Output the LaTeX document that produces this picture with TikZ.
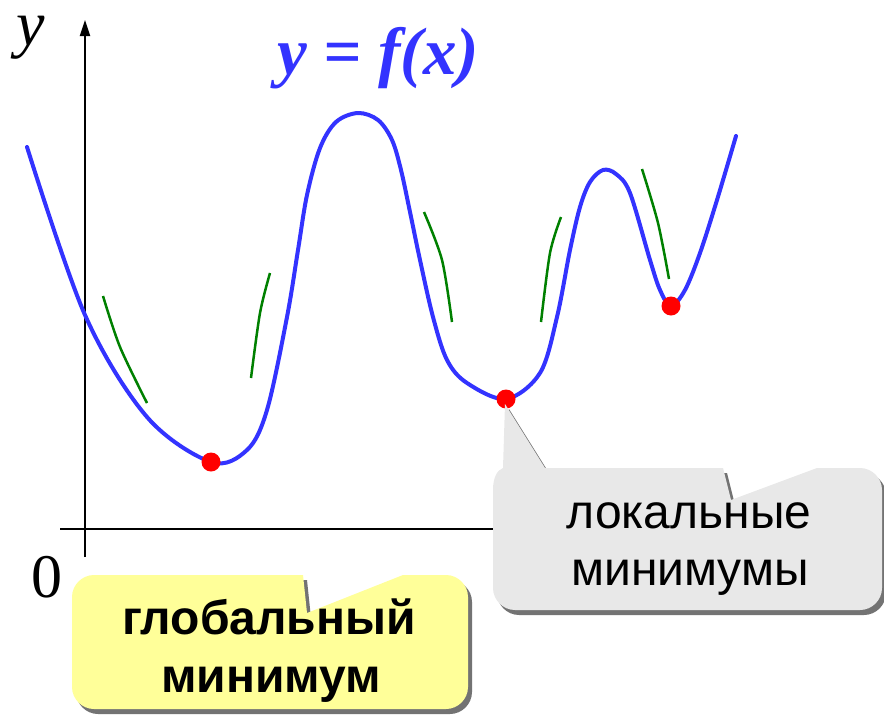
\documentclass[tikz,border=0pt]{standalone}
\usepackage{fontspec}
\setmainfont{Liberation Serif}
\newfontfamily\arialf{Liberation Sans}
\usetikzlibrary{shadows,arrows.meta}
\definecolor{curveblue}{HTML}{3333FF}
\definecolor{tangreen}{HTML}{008000}
\definecolor{calgrey}{HTML}{E8E8E8}
\definecolor{calyellow}{HTML}{FFFF99}
\tikzset{
  curve/.style={curveblue, line width=4pt, line join=round, line cap=round},
  tangent/.style={tangreen, line width=2.5pt},
  mindot/.style={circle, fill=red, inner sep=0pt, minimum size=19pt},
  axis/.style={black, line width=2pt},
  callout/.style={drop shadow={shadow xshift=4pt, shadow yshift=-5pt, opacity=0.55, fill=black}},
  calltext/.style={font=\arialf\fontsize{48}{57}\selectfont, anchor=base, inner sep=0pt},
}
\begin{document}
\begin{tikzpicture}[x=1pt, y=-1pt]
\useasboundingbox (0,0) rectangle (884,718);
% axes
\coordinate (xs) at (60,529);
\coordinate (xe) at (560,529);
\coordinate (ys) at (85,557);
\coordinate (ye) at (85,20);
\draw[axis] (xs) -- (xe);
\draw[axis, -{Triangle[length=16pt, width=10pt]}] (ys) -- (ye);
\node[font=\itshape\fontsize{64}{64}\selectfont, anchor=base, inner sep=0pt] (ylab) at (31,45) {y};
\node[font=\fontsize{62}{62}\selectfont, anchor=base, inner sep=0pt] (zero) at (47,597) {0};
\node[font=\bfseries\itshape\fontsize{67}{67}\selectfont, text=curveblue, anchor=base, inner sep=0pt] (title) at (378,74) {y = f(x)};
% curve
\draw[curve] plot[smooth, tension=0.55] coordinates {
 (27,147) (85,315) (147,417) (211,462) (247,450)
 (267,410) (287,317) (298,250) (307,195) (320,148) (336,122) (358,113) (378,120)
 (392,140) (401,170) (410,212) (420,260) (433,317) (447,360) (467,383) (506,399)
 (540,373) (557,317) (570,250) (580,207) (590,182) (603,170) (616,174) (630,193)
 (650,260) (660,290) (671,306) (685,290) (700,253) (717,200) (736,136)};
% tangents
\draw[tangent] plot[smooth] coordinates {(103,296) (120,347) (147,403)};
\draw[tangent] plot[smooth] coordinates {(270,273) (260,313) (251,378)};
\draw[tangent] plot[smooth] coordinates {(424,212) (442,260) (452,322)};
\draw[tangent] plot[smooth] coordinates {(561,217) (550,253) (541,322)};
\draw[tangent] plot[smooth] coordinates {(642,169) (658,223) (669,279)};
% minima
\node[mindot] (m1) at (211,462) {};
\node[mindot] (m2) at (506,399) {};
\node[mindot] (m3) at (671,306) {};
% grey callout
\fill[calgrey, callout] (505,404) -- (545,468) -- (723,468) -- (731,500) -- (817,468) -- (860,468)
  .. controls (872,468) and (882,478) .. (882,490) -- (882,588)
  .. controls (882,600) and (872,610) .. (860,610) -- (515,610)
  .. controls (503,610) and (493,600) .. (493,588) -- (493,490)
  .. controls (493,478) and (497,470) .. (503,468) -- cycle;
\node[calltext] (loc1) at (689,528) {локальные};
\node[calltext] (loc2) at (690,585) {минимумы};
% yellow callout
\fill[calyellow, callout] (94,575) -- (303,575) -- (307,613) -- (403,575) -- (446,575)
  .. controls (458,575) and (468,585) .. (468,597) -- (468,687)
  .. controls (468,699) and (458,709) .. (446,709) -- (94,709)
  .. controls (82,709) and (72,699) .. (72,687) -- (72,597)
  .. controls (72,585) and (82,575) .. (94,575) -- cycle;
\node[calltext, font=\arialf\bfseries\fontsize{48}{57}\selectfont] (glob1) at (269,634) {глобальный};
\node[calltext, font=\arialf\bfseries\fontsize{48}{57}\selectfont] (glob2) at (271,692) {минимум};
\end{tikzpicture}
\end{document}
